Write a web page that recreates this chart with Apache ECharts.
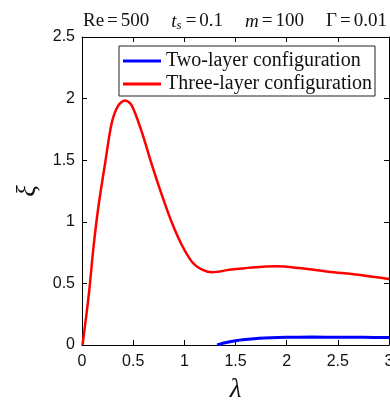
<!DOCTYPE html>
<html>
<head>
<meta charset="utf-8">
<script src="https://cdn.jsdelivr.net/npm/echarts@6/dist/echarts.min.js"></script>
<style>
  html, body { margin: 0; padding: 0; background: #fff; }
  #chart { width: 390px; height: 404px; }
</style>
</head>
<body>
<div id="chart"></div>
<script>
// two-layer configuration (blue)
const lambdaTwo = [1.32, 1.40, 1.50, 1.62, 1.73, 1.85, 1.99, 2.25, 2.51, 2.75, 3.0];
const xiTwo = [0, 0.018, 0.035, 0.046, 0.054, 0.059, 0.062, 0.064, 0.063, 0.062, 0.06];

// three-layer configuration (red)
const lambdaThree = [0.005, 0.064, 0.113, 0.16, 0.225, 0.29, 0.355, 0.42, 0.485, 0.58, 0.68, 0.775,
    0.87, 0.97, 1.08, 1.18, 1.275, 1.44, 1.66, 1.90, 2.12, 2.41, 2.70, 3.0];
const xiThree = [0, 0.39, 0.80, 1.12, 1.47, 1.80, 1.945, 1.985, 1.945, 1.74, 1.47, 1.23,
    1.01, 0.82, 0.67, 0.61, 0.59, 0.61, 0.63, 0.64, 0.625, 0.595, 0.57, 0.535];

const seriesNames = ['Two-layer configuration', 'Three-layer configuration'];
const xTicks = [0, 0.5, 1, 1.5, 2, 2.5, 3];
const yTicks = [0, 0.5, 1, 1.5, 2, 2.5];

function pairs(xs, ys) {
    return xs.map(function (x, i) { return [x, ys[i]]; });
}

const serif = 'Liberation Serif';
const sans = 'Liberation Sans';

const chart = echarts.init(document.getElementById('chart'));

const axisLine = { show: true, onZero: false, lineStyle: { color: '#000', width: 1 } };
const axisTick = { show: true, inside: true, length: 5, lineStyle: { color: '#000' } };

// title pieces, spaced out with padding like the TeX title
function tok(italic, size, pad) {
    return {
        fontFamily: serif, fontSize: size, fontWeight: 'normal',
        fontStyle: italic ? 'italic' : 'normal', color: '#111', padding: pad
    };
}

const option = {
    backgroundColor: '#fff',
    animation: false,
    title: {
        left: 83,
        top: 11,
        padding: 0,
        text: '{n|Re}{e|=}{g|500}{i|t}{s|s}{e|=}{g|0.1}{i|m}{e|=}{g|100}{n|Γ}{e|=}{n|0.01}',
        textStyle: {
            fontWeight: 'normal',
            rich: {
                n: tok(false, 19, [0, 0, 0, 0]),
                e: tok(false, 19, [0, 3, 0, 3]),
                g: tok(false, 19, [0, 22, 0, 0]),
                i: tok(true, 19, [0, 0, 0, 0]),
                s: tok(true, 13, [8, 1, 0, 0])
            }
        }
    },
    grid: { left: 82, right: 1, top: 37, bottom: 59, containLabel: false, outerBoundsMode: 'none' },
    legend: {
        orient: 'vertical',
        left: 119,
        top: 46,
        padding: [5, 3, 2, 4],
        itemGap: 3,
        itemWidth: 38,
        itemHeight: 3,
        icon: 'rect',
        borderColor: '#222',
        borderWidth: 1,
        backgroundColor: '#fff',
        data: seriesNames,
        textStyle: { fontFamily: serif, fontSize: 20, color: '#111', padding: [0, 0, 0, 0] }
    },
    xAxis: [{
        type: 'value',
        min: 0, max: 3, interval: 0.5,
        position: 'bottom',
        name: 'λ',
        nameLocation: 'middle',
        nameGap: 31,
        nameTextStyle: { fontFamily: serif, fontSize: 27, fontStyle: 'italic', color: '#111' },
        axisLine: axisLine,
        axisTick: axisTick,
        axisLabel: {
            margin: 9, fontFamily: sans, fontSize: 16, color: '#111',
            formatter: function (v) { return xTicks.indexOf(v) >= 0 ? String(v) : ''; }
        },
        splitLine: { show: false }
    }, {
        type: 'value',
        min: 0, max: 3, interval: 0.5,
        position: 'top',
        axisLine: axisLine,
        axisTick: axisTick,
        axisLabel: { show: false },
        splitLine: { show: false }
    }],
    yAxis: [{
        type: 'value',
        min: 0, max: 2.5, interval: 0.5,
        position: 'left',
        name: 'ξ',
        nameLocation: 'middle',
        nameGap: 40,
        nameTextStyle: { fontFamily: serif, fontSize: 27, fontStyle: 'italic', color: '#111' },
        axisLine: axisLine,
        axisTick: axisTick,
        axisLabel: {
            margin: 7, fontFamily: sans, fontSize: 16, color: '#111',
            formatter: function (v) { return yTicks.indexOf(v) >= 0 ? String(v) : ''; }
        },
        splitLine: { show: false }
    }, {
        type: 'value',
        min: 0, max: 2.5, interval: 0.5,
        position: 'right',
        axisLine: axisLine,
        axisTick: axisTick,
        axisLabel: { show: false },
        splitLine: { show: false }
    }],
    series: [{
        name: seriesNames[0],
        type: 'line',
        data: pairs(lambdaTwo, xiTwo),
        showSymbol: false,
        symbol: 'none',
        smooth: 0.3,
        clip: true,
        lineStyle: { color: '#0000ff', width: 3 },
        itemStyle: { color: '#0000ff' },
        z: 3
    }, {
        name: seriesNames[1],
        type: 'line',
        data: pairs(lambdaThree, xiThree),
        showSymbol: false,
        symbol: 'none',
        smooth: 0.3,
        clip: true,
        lineStyle: { color: '#ff0000', width: 2.5 },
        itemStyle: { color: '#ff0000' },
        z: 2
    }]
};

chart.setOption(option);
</script>
</body>
</html>
